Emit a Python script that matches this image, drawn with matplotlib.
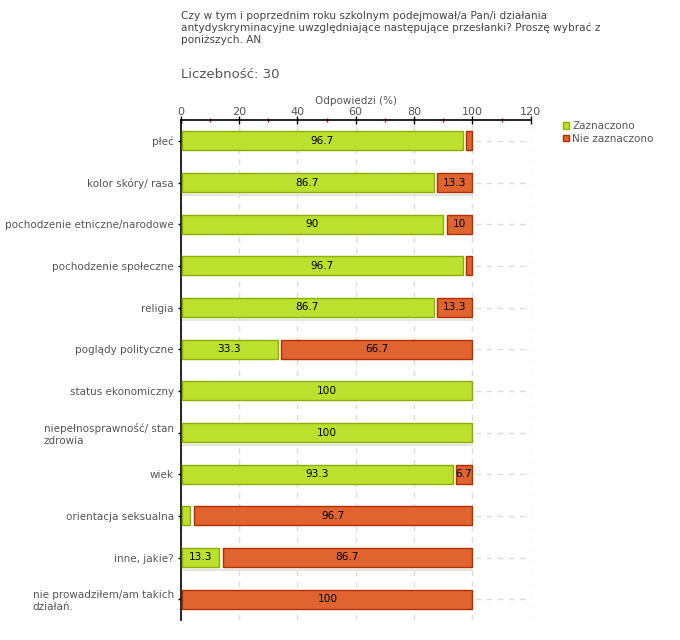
import matplotlib
matplotlib.use("Agg")
import matplotlib.pyplot as plt
from matplotlib.ticker import MultipleLocator

plt.rcParams['font.family'] = ['DejaVu Sans']

# data
categories = ["płeć", "kolor skóry/ rasa", "pochodzenie etniczne/narodowe",
              "pochodzenie społeczne", "religia", "poglądy polityczne",
              "status ekonomiczny", "niepełnosprawność/ stan\nzdrowia", "wiek",
              "orientacja seksualna", "inne, jakie?",
              "nie prowadziłem/am takich\ndziałań."]
zaznaczono = [96.7, 86.7, 90, 96.7, 86.7, 33.3, 100, 100, 93.3, 3.3, 13.3, 0]
nie_zaznaczono = [3.3, 13.3, 10, 3.3, 13.3, 66.7, 0, 0, 6.7, 96.7, 86.7, 100]
series_names = ["Zaznaczono", "Nie zaznaczono"]

title = ("Czy w tym i poprzednim roku szkolnym podejmował/a Pan/i działania\n"
         "antydyskryminacyjne uwzględniające następujące przesłanki? Proszę wybrać z\n"
         "poniższych. AN")
count_text = "Liczebność: 30"
xlabel = "Odpowiedzi (%)"

green, green_edge = "#bde02f", "#8aaf00"
orange, orange_edge = "#e0642f", "#b03000"
text_grey = "#555555"

fig = plt.figure(figsize=(6.8, 6.4), dpi=100)
ax = fig.add_axes([180.7 / 680, 1 - 620 / 640, 350 / 680, (620 - 120) / 640])

y = list(range(len(categories)))
bar_h = 0.46

# each segment is drawn with a small gap before it; zero segments are skipped
first_pad = 0.55
gap = 1.15
g_y, g_left, g_width = [], [], []
o_y, o_left, o_width = [], [], []
for i in y:
    z, n = zaznaczono[i], nie_zaznaczono[i]
    if z > 0:
        g_y.append(i)
        g_left.append(first_pad)
        g_width.append(z - first_pad)
    if n > 0:
        pad = gap if z > 0 else first_pad
        o_y.append(i)
        o_left.append(z + pad)
        o_width.append(n - pad)

ax.barh(g_y, g_width, left=g_left, height=bar_h, color=green,
        edgecolor=green_edge, linewidth=1, label=series_names[0], zorder=3)
ax.barh(o_y, o_width, left=o_left, height=bar_h, color=orange,
        edgecolor=orange_edge, linewidth=1, label=series_names[1], zorder=3)

# value labels
for i in y:
    z, n = zaznaczono[i], nie_zaznaczono[i]
    if z >= 5:
        ax.text(z / 2, i, f"{z:g}", ha="center", va="center", fontsize=7.6,
                color="black", zorder=4)
    if n >= 5:
        ax.text(z + n / 2 + 0.5, i, f"{n:g}", ha="center", va="center",
                fontsize=7.6, color="black", zorder=4)

# faint shadow lines under every third bar
for i in range(1, len(categories), 3):
    ax.plot([first_pad, 100], [i + 0.31, i + 0.31], color="#e2e2e2", lw=1.3, zorder=2)

# grid
ax.set_xlim(0, 120)
ax.set_ylim(len(categories) - 0.5, -0.5)
ax.xaxis.set_major_locator(MultipleLocator(20))
ax.xaxis.set_minor_locator(MultipleLocator(10))
ax.grid(axis="x", which="major", color="#dddddd", linestyle=(0, (4, 4)), lw=1, zorder=1)
ax.hlines(y, 101, 119.5, colors="#dddddd", linestyles=(0, (4, 4)), lw=1, zorder=1)

ax.xaxis.tick_top()
ax.xaxis.set_label_position("top")
ax.set_xlabel(xlabel, fontsize=7.5, color=text_grey, labelpad=2)
ax.tick_params(axis="x", which="major", direction="inout", length=6, width=1,
               color="black", labelsize=8, labelcolor=text_grey, pad=-1)
ax.tick_params(axis="x", which="minor", direction="inout", length=3, width=1,
               color="red")

ax.set_yticks(y)
ax.set_yticklabels(categories, fontsize=7.5, color=text_grey, multialignment="left")
ax.tick_params(axis="y", direction="out", length=2, width=1, color="black", pad=3)

for side in ["right", "bottom"]:
    ax.spines[side].set_visible(False)
for side in ["top", "left"]:
    ax.spines[side].set_color("black")
    ax.spines[side].set_linewidth(1.2)

fig.text(181 / 680, 1 - 11 / 640, title, fontsize=7.6, color="#444444",
         ha="left", va="top", linespacing=1.22)
fig.text(181 / 680, 1 - 75 / 640, count_text, fontsize=9.5, color=text_grey,
         ha="left", va="center")

ax.legend(loc="upper left", bbox_to_anchor=(558 / 680, 1 - 116 / 640),
          bbox_transform=fig.transFigure, frameon=False, fontsize=7.5,
          handlelength=0.6, handleheight=0.6, handletextpad=0.25,
          labelspacing=0.25, labelcolor=text_grey, borderpad=0)

fig.savefig("out.png", dpi=100)
